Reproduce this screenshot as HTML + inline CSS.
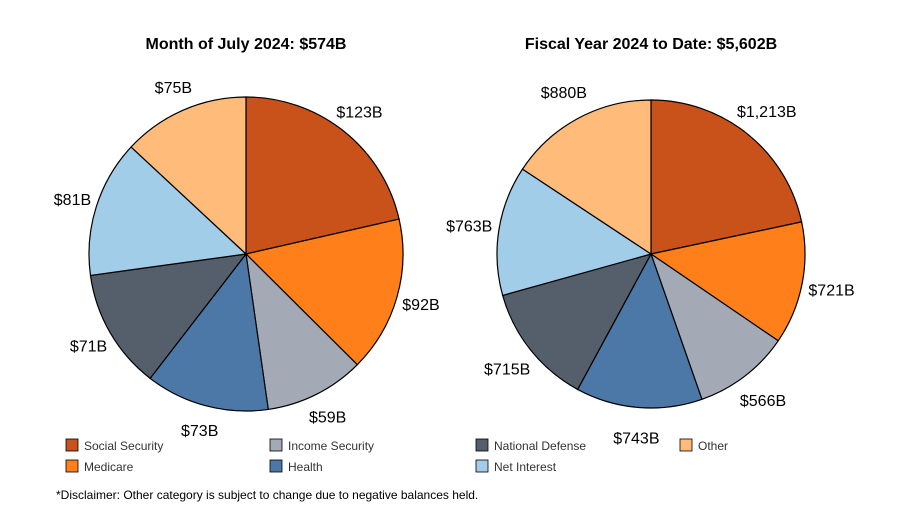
<!DOCTYPE html>
<html><head><meta charset="utf-8"><style>
body{margin:0;background:#fff;font-family:"Liberation Sans",Arial,sans-serif}
svg text{font-family:"Liberation Sans",Arial,sans-serif}
</style></head><body>
<svg id="chart" width="900" height="515" viewBox="0 0 900 515">
<text x="246" y="49" text-anchor="middle" font-size="16" font-weight="bold">Month of July 2024: $574B</text>
<text x="651" y="49" text-anchor="middle" font-size="16" font-weight="bold">Fiscal Year 2024 to Date: $5,602B</text>
<g id="pies"></g>
<g id="legend"></g>
<text x="56" y="499" font-size="12">*Disclaimer: Other category is subject to change due to negative balances held.</text>
</svg>
<script>
const categories=["Social Security","Medicare","Income Security","Health","National Defense","Net Interest","Other"];
const colors=["#C9511A","#FF7F1A","#A3AAB5","#4C78A8","#555E6B","#A1CDE8","#FFBB7A"];
const monthValues=[123,92,59,73,71,81,75];
const monthLabels=["$123B","$92B","$59B","$73B","$71B","$81B","$75B"];
const fyValues=[1213,721,566,743,715,763,880];
const fyLabels=["$1,213B","$721B","$566B","$743B","$715B","$763B","$880B"];
const NS="http://www.w3.org/2000/svg";
const pies=document.getElementById('pies');
function drawPie(vals,labels,cx,cy,r,prefix,lr){
  const total=vals.reduce((a,b)=>a+b,0);
  let a0=0;
  vals.forEach((v,i)=>{
    const a1=a0+v/total*2*Math.PI;
    const x0=cx+r*Math.sin(a0),y0=cy-r*Math.cos(a0);
    const x1=cx+r*Math.sin(a1),y1=cy-r*Math.cos(a1);
    const large=(a1-a0)>Math.PI?1:0;
    const p=document.createElementNS(NS,'path');
    p.setAttribute('d',`M${cx},${cy}L${x0},${y0}A${r},${r} 0 ${large} 1 ${x1},${y1}Z`);
    p.setAttribute('fill',colors[i]);p.setAttribute('stroke','#000');p.setAttribute('stroke-width','1.2');
    
    
    pies.appendChild(p);
    const am=(a0+a1)/2;
    const t=document.createElementNS(NS,'text');
    t.setAttribute('x',cx+lr*Math.sin(am));t.setAttribute('y',cy-lr*Math.cos(am)+6);
    t.setAttribute('text-anchor','middle');t.setAttribute('font-size','16');
    t.textContent=labels[i];
    
    
    pies.appendChild(t);
    a0=a1;
  });
}
drawPie(monthValues,monthLabels,246,254,157,'month',182);
drawPie(fyValues,fyLabels,651,254,154,'fy',184);
const lg=document.getElementById('legend');
const order=[0,2,4,6,1,3,5];
const pos=[[66,439],[270,439],[476,439],[680,439],[66,460],[270,460],[476,460]];
order.forEach((ci,k)=>{
  const [x,y]=pos[k];
  const r=document.createElementNS(NS,'rect');
  r.setAttribute('x',x);r.setAttribute('y',y);r.setAttribute('width',12);r.setAttribute('height',12);
  r.setAttribute('fill',colors[ci]);r.setAttribute('stroke','#000');r.setAttribute('stroke-width','0.8');
  
  
  lg.appendChild(r);
  const t=document.createElementNS(NS,'text');
  t.setAttribute('x',x+18);t.setAttribute('y',y+11);t.setAttribute('font-size','12');t.setAttribute('fill','#333');
  t.textContent=categories[ci];
  
  
  lg.appendChild(t);
});
</script>
</body></html>
